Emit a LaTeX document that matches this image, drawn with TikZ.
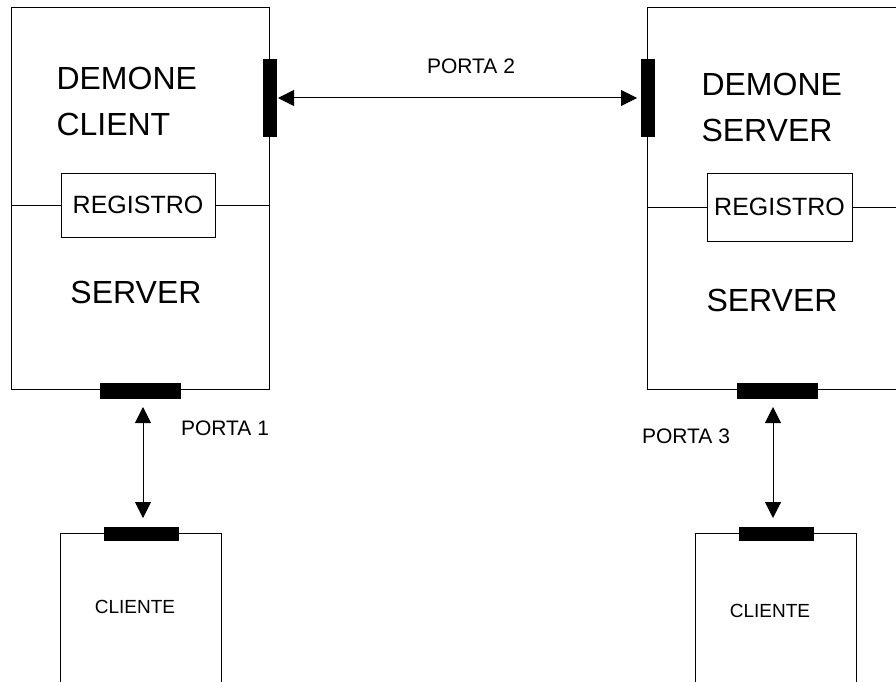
\documentclass[tikz,border=0pt]{standalone}
\usepackage{fontspec}
\setmainfont{Liberation Sans}
\usetikzlibrary{positioning,arrows.meta}

\begin{document}
\begin{tikzpicture}[x=1pt,y=-1pt,line width=1pt,
  box/.style={draw=black,inner sep=0pt,outer sep=0pt},
  portbar/.style={fill=black,draw=black,inner sep=0pt,outer sep=0pt},
  bigtext/.style={inner sep=0pt,font=\fontsize{32}{46}\selectfont,align=left},
  regtext/.style={inner sep=0pt,font=\fontsize{25}{30}\selectfont},
  porttext/.style={inner sep=0pt,font=\fontsize{21}{25}\selectfont},
  clitext/.style={inner sep=0pt,font=\fontsize{19}{23}\selectfont},
  link/.style={{Triangle[length=16pt,width=16pt]}-{Triangle[length=16pt,width=16pt]}}]
\useasboundingbox (0,0) rectangle (896,682);
\clip (0,0) rectangle (896,682);

% server boxes
\node[box,anchor=north west,minimum width=258pt,minimum height=381pt] (srvL) at (11,8) {};
\node[box,anchor=north west,minimum width=330pt,minimum height=381pt] (srvR) at (647,8) {};

% registers
\node[box,minimum width=154pt,minimum height=64pt] (regL) at (138,205) {};
\node[regtext] at (regL) {REGISTRO};
\node[box,minimum width=145pt,minimum height=68pt] (regR) at (779.5,207) {};
\node[regtext] at (regR) {REGISTRO};
\draw (srvL.west |- regL.west) -- (regL.west);
\draw (regL.east) -- (srvL.east |- regL.east);
\draw (srvR.west |- regR.west) -- (regR.west);
\draw (regR.east) -- (srvR.east |- regR.east);

% texts in server boxes
\node[bigtext,anchor=west] (demL) at (56,101.5) {DEMONE\\CLIENT};
\node[bigtext,anchor=west] (demR) at (701,107.5) {DEMONE\\SERVER};
\node[bigtext] (srvtL) at (136,292) {SERVER};
\node[bigtext] (srvtR) at (772,300) {SERVER};

% client boxes
\node[box,anchor=north west,minimum width=161pt,minimum height=200pt] (cliL) at (60,533) {};
\node[box,anchor=north west,minimum width=161pt,minimum height=200pt] (cliR) at (695,533) {};
\node[clitext] at (135,607) {CLIENTE};
\node[clitext] at (770,611) {CLIENTE};

% ports
\node[portbar,minimum width=13pt,minimum height=76pt] (p2L) at (269.5,98) {};
\node[portbar,minimum width=13pt,minimum height=76pt] (p2R) at (647.5,98) {};
\node[portbar,minimum width=80pt,minimum height=15pt] (p1) at (140,390.5) {};
\node[portbar,minimum width=80pt,minimum height=15pt] (p3) at (777,390.5) {};
\node[portbar,minimum width=74pt,minimum height=13pt] (c1) at (141,533.5) {};
\node[portbar,minimum width=74pt,minimum height=13pt] (c3) at (776,533.5) {};

% connections
\draw[link,shorten <=2pt,shorten >=4pt] (p2L.east) -- (p2R.west);
\draw[link,shorten <=9pt,shorten >=9pt] (143,390.5 |- p1.south) -- (143,533.5 |- c1.north);
\draw[link,shorten <=9pt,shorten >=9pt] (773,390.5 |- p3.south) -- (773,533.5 |- c3.north);

\node[porttext] at (471,66) {PORTA 2};
\node[porttext] at (225,428) {PORTA 1};
\node[porttext] at (686,436) {PORTA 3};
\end{tikzpicture}
\end{document}
